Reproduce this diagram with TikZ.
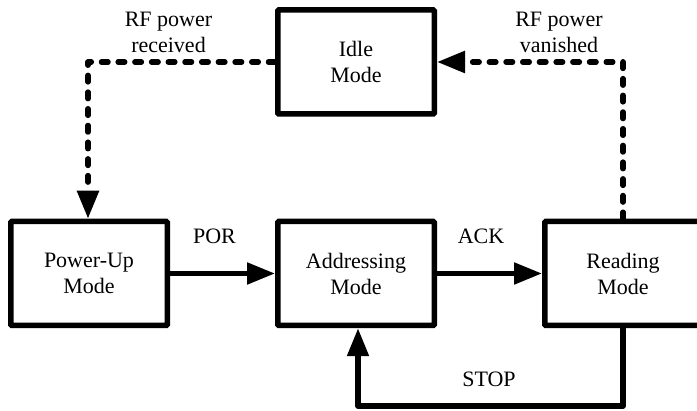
\documentclass[tikz,border=0pt]{standalone}
\usepackage{fontspec}
\setmainfont{Liberation Serif}
\usetikzlibrary{arrows.meta}
\begin{document}
\begin{tikzpicture}[x=1pt,y=-1pt,
  every node/.style={font=\fontsize{22}{26}\selectfont},
  modebox/.style={draw, line width=5.5pt, rounded corners=1pt, minimum width=156.5pt, minimum height=104pt, align=center, inner sep=0pt},
  lbl/.style={anchor=base, inner sep=0pt},
  tip/.style={-{Triangle[length=28pt,width=21pt]}},
  solidarrow/.style={line width=5.2pt, tip},
  dasharrow/.style={line width=5.5pt, tip, dash pattern=on 6.5pt off 10.2pt, line cap=round, line join=round}
]
\useasboundingbox (0,0) rectangle (697,411);
\clip (0,0) rectangle (697,411);
\node[modebox] (idle) at (356,62) {Idle\\Mode};
\node[modebox] (pu) at (89,273.5) {Power-Up\\Mode};
\node[modebox] (ad) at (356,273.5) {Addressing\\Mode};
\node[modebox] (rd) at (623,273.5) {Reading\\Mode};
\coordinate (c1) at (88,62);
\coordinate (c2) at (623,62);
\coordinate (c3) at (623,406);
\coordinate (c4) at (358,406);
\draw[dasharrow] (idle.west) -- (c1) -- (pu.north -| c1);
\draw[dasharrow] (rd.north) -- (c2) -- (idle.east);
\draw[solidarrow] (pu.east) -- (ad.west);
\draw[solidarrow] (ad.east) -- (rd.west);
\draw[solidarrow, line join=round] (rd.south) -- (c3) -- (c4) -- (ad.south -| c4);
\node[lbl] (por) at (214.5,244) {POR};
\node[lbl] (ack) at (481,244) {ACK};
\node[lbl] (stop) at (489,387) {STOP};
\node[align=center, inner sep=0pt] (rfr) at (168.5,32) {RF power\\received};
\node[align=center, inner sep=0pt] (rfv) at (559,32) {RF power\\vanished};
\end{tikzpicture}
\end{document}
